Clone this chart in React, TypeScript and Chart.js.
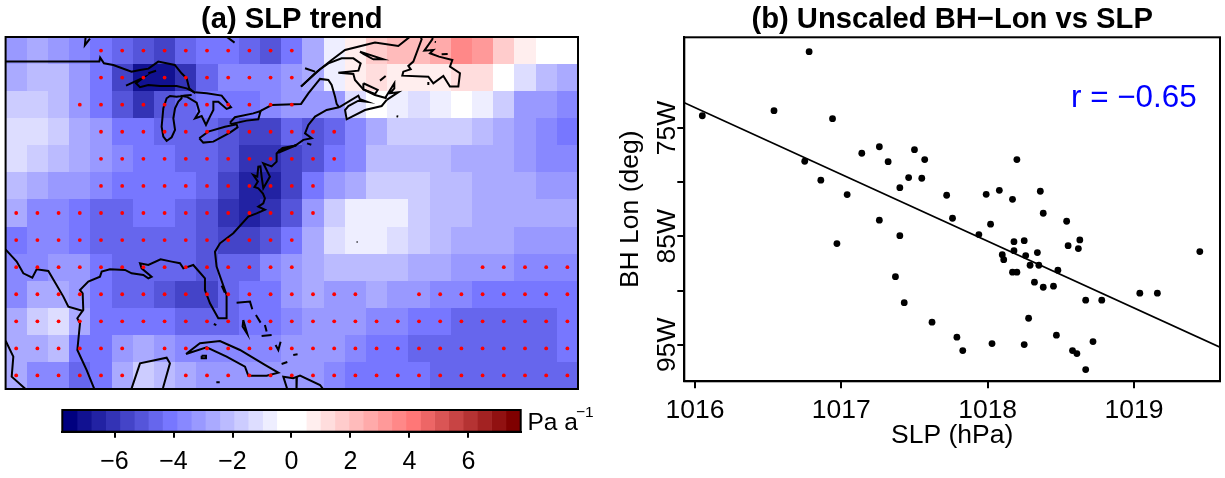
import React, { useEffect, useRef } from "react";
import { Chart, registerables } from "chart.js";
Chart.register(...registerables);

type P = [number, number];
const FONT = '"Liberation Sans", Arial, sans-serif';

// ---- (a) SLP trend field, Pa/a, one list per latitude row (north to south)
const gridLons = [-105,-102.5,-100,-97.5,-95,-92.5,-90,-87.5,-85,-82.5,-80,-77.5,-75,-72.5,-70,-67.5,-65,-62.5,-60,-57.5,-55,-52.5,-50,-47.5,-45,-42.5,-40];
const gridLats = [50,47.5,45,42.5,40,37.5,35,32.5,30,27.5,25,22.5,20];
const trend50 = [-3.2,-2.7,-3.2,-3.6,-4.1,-4.6,-5.1,-5.6,-4.6,-4.1,-4.1,-4.6,-5.1,-4.1,-2.7,-0.7,0.7,1.7,2.2,2.2,2.7,3.6,3.2,1.7,0.7,0,0];
const trend475 = [-2.7,-2.2,-2.2,-3.2,-4.1,-5.6,-7.0,-7.0,-6.1,-4.6,-3.6,-3.6,-3.6,-3.2,-2.7,-0.7,0.7,1.2,0.7,0.7,0.7,1.2,1.2,0,-1.2,-2.2,-2.7];
const trend45 = [-1.7,-1.7,-2.2,-3.2,-4.1,-5.1,-6.1,-5.1,-4.6,-4.1,-4.1,-4.1,-3.6,-3.2,-3.2,-3.2,-1.2,0,-0.7,-1.2,-0.7,0,-0.7,-1.7,-3.2,-3.2,-3.6];
const trend425 = [-1.2,-1.2,-1.7,-2.7,-3.2,-4.1,-4.1,-4.6,-4.6,-4.6,-5.1,-5.6,-5.6,-4.6,-5.1,-4.6,-3.6,-2.7,-1.7,-1.7,-1.7,-1.7,-2.2,-2.7,-3.2,-3.6,-4.1];
const trend40 = [-1.2,-1.7,-2.2,-2.7,-3.2,-3.6,-4.1,-4.1,-4.6,-4.6,-5.1,-6.1,-6.1,-5.6,-5.1,-4.1,-3.6,-2.2,-2.2,-2.2,-2.2,-2.7,-2.7,-2.7,-3.2,-3.6,-3.6];
const trend375 = [-2.2,-2.7,-3.2,-3.2,-3.6,-4.1,-4.1,-4.1,-4.1,-4.6,-5.6,-6.5,-6.5,-5.6,-4.1,-3.2,-2.7,-1.7,-1.7,-1.7,-2.2,-2.2,-2.7,-2.7,-2.7,-3.2,-3.2];
const trend35 = [-2.7,-3.6,-3.6,-4.1,-4.6,-4.6,-4.1,-4.1,-4.6,-5.1,-6.1,-6.5,-6.1,-5.1,-3.2,-1.7,-0.7,-0.7,-0.7,-1.7,-2.2,-2.2,-2.7,-2.7,-2.7,-2.7,-2.7];
const trend325 = [-4.1,-3.6,-3.6,-4.1,-4.6,-4.6,-4.6,-4.6,-4.6,-5.1,-5.6,-5.6,-5.1,-4.1,-2.7,-1.2,-0.7,-0.7,-1.2,-1.7,-2.2,-2.7,-2.7,-2.7,-3.2,-3.2,-3.2];
const trend30 = [-3.6,-3.6,-3.2,-3.2,-4.1,-4.6,-4.6,-4.6,-4.6,-5.1,-4.6,-4.6,-3.6,-3.2,-2.7,-2.2,-2.2,-2.2,-2.2,-2.7,-2.7,-3.2,-3.2,-3.2,-3.6,-3.6,-3.6];
const trend275 = [-3.6,-2.7,-2.7,-3.2,-4.1,-4.6,-4.6,-5.1,-5.6,-5.6,-4.6,-4.1,-4.1,-3.2,-2.7,-3.2,-3.2,-2.7,-3.2,-3.2,-3.6,-3.6,-4.1,-4.1,-4.1,-4.1,-4.1];
const trend25 = [-2.7,-1.7,-1.2,-2.7,-4.1,-4.1,-4.1,-4.1,-4.6,-4.6,-4.6,-4.1,-4.1,-3.6,-3.2,-3.2,-3.2,-3.6,-3.6,-4.1,-4.1,-4.6,-4.6,-4.6,-4.6,-4.6,-4.1];
const trend225 = [-2.7,-2.7,-2.2,-4.1,-4.1,-3.2,-2.7,-3.2,-3.6,-3.6,-3.6,-3.6,-3.6,-3.2,-3.2,-3.2,-3.6,-4.1,-4.1,-4.6,-4.6,-4.6,-4.6,-4.6,-4.6,-4.6,-4.1];
const trend20 = [-2.7,-3.6,-3.6,-4.6,-4.1,-2.7,-1.7,-2.2,-2.7,-3.2,-3.2,-3.2,-3.2,-3.2,-3.2,-3.6,-4.1,-4.1,-4.1,-4.1,-4.6,-4.6,-4.6,-4.6,-4.6,-4.6,-4.6];
const trendRows = [trend50,trend475,trend45,trend425,trend40,trend375,trend35,trend325,trend30,trend275,trend25,trend225,trend20];

// significance by grid cell, one string per latitude row
const significant = [
  "000011111111110000000000000",
  "000011111111110000000000000",
  "000111111111110000000000000",
  "000011111111111100000000000",
  "000011111111111100000000000",
  "000011111111111000000000000",
  "111111111111111000000000000",
  "111111111111110000000000000",
  "111111111111110000000011111",
  "111111111111111110011111111",
  "111111111111111111111111111",
  "111111011111111111111111111",
  "111111001111111111111111111",
];

// colour levels
const levelEdges = [-7.77,-7.27,-6.78,-6.3,-5.82,-5.33,-4.85,-4.37,-3.88,-3.4,-2.92,-2.43,-1.95,-1.47,-0.98,-0.5,0.5,0.98,1.47,1.95,2.43,2.92,3.4,3.88,4.37,4.85,5.33,5.82,6.3,6.78,7.27,7.77];
const levelColors = ["#00007F","#111191","#2222A3","#3333B5","#4444C8","#5555DA","#6666ED","#7777FF","#8888FF","#9999FF","#AAAAFF","#BBBBFF","#CCCCFF","#DDDDFF","#EEEEFF","#FFFFFF","#FFEEEE","#FFDDDD","#FFCCCC","#FFBBBB","#FFAAAA","#FF9999","#FF8888","#FF7777","#ED6666","#DA5555","#C84444","#B53333","#A32222","#911111","#7F0000"];
const barTicks = [-6,-4,-2,0,2,4,6];

// coastlines, lon/lat
const borderNorth: P[] = [[-107,48.98],[-95.2,48.98],[-95.1,49.35],[-94.65,48.82],[-93.55,48.67],[-91.4,48.05],[-90.4,48.21],[-89.4,48.33],[-88.25,48.98],[-86.3,48.67],[-85.5,47.9],[-84.9,47.44],[-84.6,46.51],[-83.9,46.05]];
const superiorSouth: P[] = [[-92.05,46.76],[-90.0,47.5],[-90.87,46.98],[-90.4,46.61],[-89.42,46.82],[-88.04,46.73],[-86.08,46.73],[-84.9,46.51],[-83.9,46.11]];
const isleRoyale: P[] = [[-89.42,47.9],[-88.51,48.14]];
const michiganHuron: P[] = [[-84.31,45.9],[-85.09,45.84],[-86.08,45.74],[-86.86,45.81],[-87.26,45.59],[-87.65,44.67],[-87.85,42.97],[-87.65,42.05],[-87.26,41.65],[-86.67,41.99],[-86.27,42.67],[-86.47,43.74],[-86.27,44.67],[-85.88,45.28],[-85.5,45.59],[-85.5,45.81],[-84.9,45.74],[-83.72,45.19],[-83.41,44.36],[-83.9,43.74],[-83.13,43.96],[-82.62,43.13],[-82.15,43.9],[-81.75,44.51],[-81.75,45.28],[-81.16,45.28],[-80.18,44.61],[-79.67,44.76],[-80.77,45.84],[-82.54,46.05],[-83.9,46.14]];
const erie: P[] = [[-83.41,41.9],[-82.35,42.51],[-80.38,42.97],[-79.01,43.19],[-78.89,42.91],[-79.79,42.42],[-81.75,41.59],[-82.94,41.5],[-83.41,41.9]];
const ontario: P[] = [[-79.79,43.34],[-79.21,43.84],[-77.04,44.2],[-76.18,44.42],[-76.45,43.65],[-77.83,43.53],[-79.6,43.22],[-79.79,43.34]];
const stLawrenceBorder: P[] = [[-76.18,44.42],[-74.88,44.97],[-71.41,45.07],[-70.55,46.05],[-69.17,47.38],[-68.19,47.28],[-67.8,46.82],[-67.4,45.74],[-67.21,45.07],[-66.93,44.76]];
const eastCoast: P[] = [[-66.93,44.76],[-68.39,44.51],[-69.76,43.9],[-70.55,43.13],[-70.94,42.36],[-70.15,41.9],[-71.14,41.75],[-72.12,41.2],[-73.6,41.0],[-74.29,40.5],[-74.29,39.74],[-74.88,39.3],[-75.86,39.59],[-75.08,38.36],[-75.86,37.28],[-76.06,38.36],[-76.2,39.3],[-76.45,39.28],[-76.57,38.36],[-77.04,38.51],[-76.5,37.9],[-76.9,37.4],[-76.45,37.28],[-75.9,36.8],[-75.67,36.36],[-75.86,35.9],[-76.45,35.59],[-75.67,35.3],[-76.65,34.97],[-77.63,34.66],[-79.4,33.13],[-80.97,32.2],[-81.56,31.43],[-81.37,30.05],[-80.19,27.43],[-80.19,25.28],[-81.17,25.28],[-82.15,26.66],[-82.74,27.89],[-82.74,28.97],[-84.12,30.2],[-85.29,29.89],[-85.69,30.36],[-86.67,30.51],[-87.97,30.72],[-89.42,30.2],[-90.4,30.36],[-90.21,29.89],[-89.03,29.12],[-89.42,28.97],[-90.01,29.28],[-91.39,29.43],[-92.17,29.74],[-93.94,29.8],[-94.92,29.59],[-95.12,29.12],[-96.5,28.66],[-97.48,27.89],[-97.16,27.59],[-97.09,26.05],[-97.79,25.28],[-97.48,24.81],[-97.79,22.35],[-96.69,20.5],[-95.71,18.6]];
const longIsland: P[] = [[-74.09,40.76],[-71.93,41.28],[-74.0,40.6],[-74.09,40.76]];
const capeIslands: P[] = [[-70.7,41.43],[-70.2,41.3]];
const riversGrande: P[] = [[-107,32],[-106.2,31.59],[-104.94,30.51],[-104.16,29.43],[-103.1,29.03],[-102.59,29.8],[-101.21,29.65],[-99.44,27.28],[-98.85,26.35],[-97.09,25.95]];
const pacificMexico: P[] = [[-106.5,23.4],[-106.2,23.12],[-105.34,21.74],[-105.53,19.89],[-103.77,18.66],[-103.3,18.3]];
const yucatan: P[] = [[-91.6,18.4],[-91.39,18.81],[-90.4,21.12],[-87.26,21.64],[-86.87,21.12],[-87.65,18.97],[-87.8,18.4]];
const cuba: P[] = [[-84.98,21.98],[-83.33,22.97],[-80.97,23.18],[-78.61,22.35],[-75.67,20.97],[-74.09,20.26],[-75.47,19.98],[-77.63,19.98],[-78.02,20.81],[-80.19,21.74],[-82.54,22.6],[-84.98,21.98]];
const isleYouth: P[] = [[-83.13,21.83],[-82.62,21.83],[-82.62,21.58],[-83.13,21.58],[-83.13,21.83]];
const smallCaribbean: P[] = [[-81.4,19.37],[-81.0,19.37]];
const bahamasA: P[] = [[-79.01,26.72],[-77.43,26.82],[-77.16,26.11]];
const bahamasB: P[] = [[-78.22,25.12],[-77.75,23.83],[-78.3,24.51],[-78.22,25.12]];
const bahamasC: P[] = [[-76.73,25.58],[-76.18,24.88]];
const bahamasD: P[] = [[-75.67,24.66],[-75.47,24.05]];
const bahamasE: P[] = [[-76.06,23.65],[-74.88,23.74]];
const bahamasF: P[] = [[-74.41,22.81],[-74.09,22.35],[-73.82,23.12]];
const bahamasG: P[] = [[-72.33,21.89],[-71.82,21.95]];
const bahamasH: P[] = [[-73.7,21.06],[-73.03,21.24]];
const hispaniolaA: P[] = [[-72.9,18.4],[-73.5,19.89],[-72.33,19.74],[-71.53,19.98],[-69.17,19.12],[-68.58,18.5]];
const hispaniolaB: P[] = [[-71.9,19.85],[-71.95,18.4]];
const okeechobee: P[] = [[-80.77,28.3],[-80.4,27.65]];
const keys: P[] = [[-81.7,24.75],[-81.4,24.65]];
const northShore: P[] = [[-71.41,46.67],[-69.76,47.9],[-67.8,49.13],[-66.22,50.05],[-62.69,50.73],[-59.94,50.42],[-58.56,51.28],[-57.97,51.6]];
const saguenay: P[] = [[-70.94,48.36],[-69.76,48.05]];
const gaspe: P[] = [[-71.41,46.67],[-69.17,48.27],[-68.19,48.82],[-66.62,49.28],[-65.24,49.28],[-64.38,48.82],[-64.65,48.14],[-67.01,47.96],[-65.24,47.84],[-65.05,47.28],[-64.06,46.42],[-62.69,45.9],[-61.31,45.59]];
const anticosti: P[] = [[-64.46,49.9],[-61.71,49.19],[-62.88,49.19],[-64.06,49.68],[-64.46,49.9]];
const pei: P[] = [[-64.06,46.98],[-62.37,46.36],[-62.69,45.99],[-64.06,46.42],[-64.06,46.98]];
const magdalen: P[] = [[-62.1,47.22],[-61.43,47.65]];
const capeBreton: P[] = [[-61.51,45.59],[-60.41,46.98],[-60.41,46.51],[-60.92,46.05],[-59.94,46.14],[-60.72,45.74],[-61.31,45.44]];
const novaScotia: P[] = [[-66.93,44.76],[-64.65,45.84],[-64.46,45.5],[-63.67,45.28],[-64.65,45.37],[-65.83,44.88],[-66.22,44.51],[-66.03,43.65],[-63.87,44.51],[-61.9,44.88],[-61.31,45.44]];
const newfoundland: P[] = [[-57.4,51.5],[-57.19,51.04],[-58.17,48.98],[-58.76,48.58],[-58.48,48.27],[-59.35,48.05],[-59.47,47.68],[-56.4,47.59],[-55.81,46.98],[-54.63,47.65],[-53.85,46.67],[-52.86,46.67],[-52.67,47.9],[-53.85,48.51],[-53.57,49.13],[-55.14,49.44],[-56.2,49.75],[-55.81,50.05],[-56.87,49.99],[-55.93,51.04],[-55.81,51.5]];
const nfIslandA: P[] = [[-55.65,50.8],[-55.5,50.78]];
const nfIslandB: P[] = [[-54.83,49.65],[-54.12,49.68]];
const stPierre: P[] = [[-56.4,46.82],[-56.4,47.1]];
const sable: P[] = [[-60.15,43.93],[-59.95,43.9]];
const bermuda: P[] = [[-64.85,32.33],[-64.75,32.33]];
const winnipeg: P[] = [[-96.8,51.4],[-96.9,50.5],[-96.3,51.1]];
const jamesBay: P[] = [[-80.4,51.4],[-79.25,50.73]];
const coastlines = [borderNorth,superiorSouth,isleRoyale,michiganHuron,erie,ontario,stLawrenceBorder,eastCoast,longIsland,capeIslands,riversGrande,pacificMexico,yucatan,cuba,isleYouth,smallCaribbean,bahamasA,bahamasB,bahamasC,bahamasD,bahamasE,bahamasF,bahamasG,bahamasH,hispaniolaA,hispaniolaB,okeechobee,keys,northShore,saguenay,gaspe,anticosti,pei,magdalen,capeBreton,novaScotia,newfoundland,nfIslandA,nfIslandB,stPierre,sable,bermuda,winnipeg,jamesBay];

// ---- (b) scatter
const slp = [1016.05,1016.78,1016.54,1016.94,1016.75,1016.86,1017.04,1017.14,1017.26,1017.32,1017.5,1017.46,1017.4,1017.26,1017.4,1017.55,1017.57,1017.72,1017.99,1018.08,1018.17,1018.2,1018.36,1018.38,1018.54,1017.76,1018.02,1017.94,1018.18,1018.25,1018.55,1018.63,1018.62,1018.18,1018.1,1018.11,1018.26,1018.34,1018.29,1018.35,1018.48,1018.17,1018.2,1018.32,1018.38,1018.45,1019.45,1019.04,1019.16,1018.67,1018.78,1018.28,1017.62,1017.79,1017.83,1018.03,1018.25,1018.47,1018.72,1018.58,1018.61,1018.67,1016.97,1017.37,1017.43];
const bhLon = [73.87,67.96,73.4,74.14,78.07,79.82,81.15,77.33,76.73,78.11,77.0,79.58,80.51,83.51,84.94,79.64,77.92,81.21,81.12,80.75,81.58,77.92,80.84,82.87,83.61,83.33,83.88,84.84,85.49,85.4,85.86,85.33,86.13,86.32,86.69,87.15,86.78,86.5,87.67,87.67,88.13,88.31,88.31,89.23,89.7,89.6,86.41,90.25,90.25,90.89,90.89,92.56,92.92,94.31,95.54,94.9,94.99,94.12,94.71,95.54,95.82,97.3,85.67,88.72,91.12];
const fitSlp = [1015.927,1019.588];
const fitLon = [72.67,95.23];
const slpTicks = [1016,1017,1018,1019];
const lonTicks = [75,80,85,90,95];
const lonTickLabels: Record<number,string> = {75:"75W",85:"85W",95:"95W"};

const colorFor = (v: number) => {
  for (let i = 0; i < levelColors.length; i++) if (v < levelEdges[i + 1]) return levelColors[i];
  return levelColors[levelColors.length - 1];
};
const frame = {
  id: "frame",
  afterDatasetsDraw(chart: any) {
    const { left, top, right, bottom } = chart.chartArea;
    const c = chart.ctx;
    c.save(); c.strokeStyle = "#000"; c.lineWidth = 2;
    c.strokeRect(left, top, right - left, bottom - top);
    c.restore();
  },
};
const heatmap = {
  id: "heatmap",
  beforeDatasetsDraw(chart: any) {
    const { x, y } = chart.scales;
    const c = chart.ctx;
    trendRows.forEach((row, r) => row.forEach((v, k) => {
      const x0 = Math.round(x.getPixelForValue(gridLons[k] - 1.25));
      const x1 = Math.round(x.getPixelForValue(gridLons[k] + 1.25));
      const y0 = Math.round(y.getPixelForValue(gridLats[r] + 1.25));
      const y1 = Math.round(y.getPixelForValue(gridLats[r] - 1.25));
      c.fillStyle = colorFor(v);
      c.fillRect(x0, y0, x1 - x0, y1 - y0);
    }));
  },
};

export default function App() {
  const a = useRef<HTMLCanvasElement>(null);
  const bar = useRef<HTMLCanvasElement>(null);
  const b = useRef<HTMLCanvasElement>(null);
  useEffect(() => {
    Chart.defaults.font.family = FONT;
    Chart.defaults.color = "#000";
    const dots: { x: number; y: number }[] = [];
    significant.forEach((m, r) => m.split("").forEach((f, k) => { if (f === "1") dots.push({ x: gridLons[k], y: gridLats[r] }); }));
    const mapChart = new Chart(a.current!, {
      type: "scatter",
      data: {
        datasets: [
          { data: dots, pointRadius: 1.9, pointBackgroundColor: "#FF0000", pointBorderWidth: 0, showLine: false } as any,
          ...coastlines.map((path) => ({
            data: path.map(([x, y]) => ({ x, y })), showLine: true, pointRadius: 0, borderColor: "#000", borderWidth: 2, tension: 0,
          })),
        ],
      },
      options: {
        responsive: false, animation: false, events: [],
        layout: { padding: { left: 5.6, right: 32, top: 3, bottom: 11 } },
        plugins: {
          legend: { display: false }, tooltip: { enabled: false },
          title: { display: true, text: "(a) SLP trend", fullSize: false, color: "#000", padding: 0, font: { size: 29.2, weight: "bold", lineHeight: "34px" } as any },
        },
        scales: {
          x: { type: "linear", display: false, min: -106.25, max: -38.75 },
          y: { type: "linear", display: false, min: 18.75, max: 51.25 },
        },
      },
      plugins: [heatmap, frame],
    } as any);

    const barChart = new Chart(bar.current!, {
      type: "bar",
      data: {
        labels: [""],
        datasets: levelColors.map((col, i) => ({ data: [[levelEdges[i], levelEdges[i + 1]]], backgroundColor: col, borderWidth: 0, grouped: false, barPercentage: 1, categoryPercentage: 1 })),
      },
      options: {
        indexAxis: "y", responsive: false, animation: false, events: [],
        layout: { padding: { left: 62.3, right: 89.3, top: 10, bottom: 0 } },
        plugins: { legend: { display: false }, tooltip: { enabled: false }, title: { display: false } },
        scales: {
          y: { display: false },
          x: {
            type: "linear", min: -7.77, max: 7.77,
            afterBuildTicks: (s: any) => { s.ticks = barTicks.map((value) => ({ value })); },
            afterFit: (s: any) => { s.height = 46.3; },
            ticks: { autoSkip: false, maxRotation: 0, padding: 9, color: "#000", font: { size: 25 }, callback: (v: any) => (v < 0 ? "\u2212" + Math.abs(v) : String(v)) },
            grid: { drawOnChartArea: false, color: "#000", tickLength: 6, lineWidth: 2 },
            border: { color: "#000", width: 2 },
          },
        },
      },
      plugins: [frame, {
        id: "unit",
        afterDraw(chart: any) {
          const c = chart.ctx;
          c.save(); c.fillStyle = "#000"; c.textBaseline = "alphabetic"; c.textAlign = "left";
          c.font = `24.5px ${FONT}`; c.fillText("Pa a", 527.5, 29.5);
          c.font = `15.5px ${FONT}`; c.fillText("\u22121", 576, 17);
          c.restore();
        },
      }],
    } as any);

    const scatter = new Chart(b.current!, {
      type: "scatter",
      data: {
        datasets: [
          { data: slp.map((x, i) => ({ x, y: bhLon[i] })), pointRadius: 3.4, pointBackgroundColor: "#000", pointBorderWidth: 0, showLine: false } as any,
          { data: fitSlp.map((x, i) => ({ x, y: fitLon[i] })), showLine: true, pointRadius: 0, borderColor: "#000", borderWidth: 1.8 },
        ],
      },
      options: {
        responsive: false, animation: false, events: [],
        layout: { padding: { left: 0, right: 5, top: 3.3, bottom: 6.7 } },
        plugins: {
          legend: { display: false }, tooltip: { enabled: false },
          title: { display: true, text: "(b) Unscaled BH\u2212Lon vs SLP", fullSize: false, color: "#000", padding: 0, font: { size: 29.2, weight: "bold", lineHeight: "34px" } as any },
        },
        scales: {
          x: {
            type: "linear", min: 1015.927, max: 1019.588,
            afterBuildTicks: (s: any) => { s.ticks = slpTicks.map((value) => ({ value })); },
            afterFit: (s: any) => { s.height = 90; },
            ticks: { autoSkip: false, maxRotation: 0, padding: 6, color: "#000", font: { size: 26.5 }, callback: (v: any) => String(v) },
            grid: { drawOnChartArea: false, color: "#000", tickLength: 7, lineWidth: 2 },
            border: { color: "#000", width: 2 },
            title: { display: true, text: "SLP (hPa)", color: "#000", font: { size: 26.5 }, padding: { top: 0, bottom: 20 } },
          },
          y: {
            type: "linear", reverse: true, min: 66.63, max: 98.38,
            afterBuildTicks: (s: any) => { s.ticks = lonTicks.map((value) => ({ value })); },
            afterFit: (s: any) => { s.width = 74.3; },
            ticks: { autoSkip: false, minRotation: 90, maxRotation: 90, crossAlign: "center", padding: -17.5, color: "#000", font: { size: 26.5 }, callback: (v: any) => lonTickLabels[v] ?? "" },
            grid: { drawOnChartArea: false, color: "#000", tickLength: 7, lineWidth: 2 },
            border: { color: "#000", width: 2 },
            title: { display: true, text: "BH Lon (deg)", color: "#000", font: { size: 26.5 }, padding: { top: 5, bottom: 0 } },
          },
        },
      },
      plugins: [frame, {
        id: "corr",
        afterDraw(chart: any) {
          const c = chart.ctx;
          c.save(); c.fillStyle = "#0000FF"; c.textBaseline = "alphabetic"; c.textAlign = "left";
          c.font = `31.4px ${FONT}`; c.fillText("r = \u22120.65", 461, 106.5);
          c.restore();
        },
      }],
    } as any);
    return () => { mapChart.destroy(); barChart.destroy(); scatter.destroy(); };
  }, []);
  const abs = (left: number, top: number): React.CSSProperties => ({ position: "absolute", left, top, display: "block" });
  return (
    <div style={{ position: "absolute", left: 0, top: 0, width: 1225, height: 478, background: "#fff", overflow: "hidden" }}>
      <canvas ref={a} width={610} height={400} style={abs(0, 0)} />
      <canvas ref={bar} width={610} height={78} style={abs(0, 400)} />
      <canvas ref={b} width={615} height={478} style={abs(610, 0)} />
    </div>
  );
}
